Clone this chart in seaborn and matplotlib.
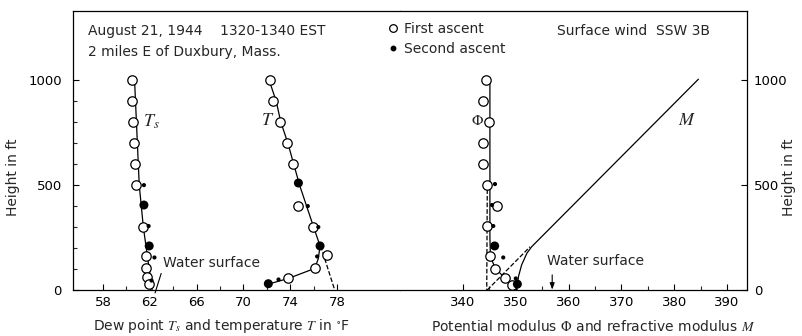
import matplotlib
matplotlib.use('Agg')
import matplotlib.pyplot as plt
import seaborn as sns
from matplotlib.lines import Line2D
from matplotlib.ticker import FixedLocator

# ---- left panel: dew point Ts and temperature T (deg F) vs height (ft)
ts_open_h = [1000, 900, 800, 700, 600, 500, 300, 160, 105, 60, 28]
ts_open = [60.45, 60.5, 60.6, 60.65, 60.7, 60.8, 61.4, 61.7, 61.7, 61.8, 61.9]
ts_fill_h = [500, 405, 305, 210, 155, 45]
ts_fill = [61.5, 61.5, 61.9, 61.95, 62.4, 62.15]
ts_fill_kind = ['s', 'L', 's', 'L', 's', 's']
ts_line_h = [1000, 500, 300, 0]
ts_line = [60.7, 61.1, 61.45, 62.2]

t_open_h = [1000, 900, 800, 700, 600, 400, 300, 165, 103, 55]
t_open = [72.27, 72.5, 73.13, 73.75, 74.27, 74.7, 75.97, 77.1, 76.1, 73.84]
t_fill_h = [510, 400, 300, 210, 160, 50, 30]
t_fill = [74.7, 75.5, 76.4, 76.55, 76.3, 73.0, 72.13]
t_fill_kind = ['L', 's', 's', 'L', 's', 's', 'L']
t_line_h = [1000, 900, 800, 700, 600, 500, 400, 300, 210, 150, 103, 55, 28]
t_line = [72.2, 72.8, 73.2, 73.8, 74.3, 74.8, 75.4, 76.0, 76.55, 76.4, 76.1, 73.84, 72.13]
t_dash_h = [210, 0]
t_dash = [76.6, 77.8]

# ---- right panel: potential modulus Phi and refractive modulus M
phi_open_h = [1000, 900, 800, 700, 600, 500, 400, 305, 160, 100, 55, 25]
phi_open = [344.36, 343.84, 344.92, 343.84, 343.84, 344.49, 346.38, 344.49, 345.1, 346.06, 347.95, 349.2]
phi_fill_h = [505, 405, 305, 210, 155, 55, 28]
phi_fill = [346.06, 345.5, 345.74, 346.0, 347.63, 350.0, 350.3]
phi_fill_kind = ['s', 's', 's', 'L', 's', 's', 'L']
phi_line_h = [1000, 250, 160, 103, 56, 24, 0]
phi_line = [345.1, 345.1, 345.2, 346.1, 348.0, 349.8, 350.2]
phi_dash_h = [480, 0]
phi_dash = [344.6, 344.5]
m_dash_h = [0, 206]
m_dash = [344.6, 352.7]
m_line_h = [0, 63, 119, 175, 206, 1005]
m_line = [350.2, 350.5, 351.1, 352.1, 353.0, 384.6]

left_ticks = [58, 62, 66, 70, 74, 78]
left_minor = [60, 64, 68, 72, 76]
right_ticks = [340, 350, 360, 370, 380, 390]
right_minor = [345, 355, 365, 375, 385]
y_ticks = [0, 500, 1000]

sns.set_style('ticks')
plt.rcParams['font.family'] = ['DejaVu Sans']
plt.rcParams['mathtext.fontset'] = 'stix'
plt.rcParams['font.size'] = 9.5

W, H = 803, 336
fig = plt.figure(figsize=(W / 100, H / 100), dpi=100)
L, R, B, T, MID = 73, 747, 290, 11, 400
ax1 = fig.add_axes([L / W, 1 - B / H, (MID - L) / W, (B - T) / H])
ax2 = fig.add_axes([MID / W, 1 - B / H, (R - MID) / W, (B - T) / H])

sizes = {'L': 42, 's': 9}
lw = 0.9


def profile(ax, xo, ho, xf, hf, kind, xl, hl):
    sns.lineplot(x=xl, y=hl, sort=False, estimator=None, color='black', lw=lw, ax=ax, zorder=2)
    sns.scatterplot(x=xo, y=ho, s=46, facecolor='white', edgecolor='black', linewidth=0.9, ax=ax, zorder=3)
    sns.scatterplot(x=xf, y=hf, size=kind, sizes=sizes, color='black', linewidth=0, legend=False, ax=ax, zorder=4)


profile(ax1, ts_open, ts_open_h, ts_fill, ts_fill_h, ts_fill_kind, ts_line, ts_line_h)
profile(ax1, t_open, t_open_h, t_fill, t_fill_h, t_fill_kind, t_line, t_line_h)
sns.lineplot(x=t_dash, y=t_dash_h, sort=False, estimator=None, color='black', lw=lw, linestyle='--', ax=ax1)

profile(ax2, phi_open, phi_open_h, phi_fill, phi_fill_h, phi_fill_kind, phi_line, phi_line_h)
sns.lineplot(x=m_line, y=m_line_h, sort=False, estimator=None, color='black', lw=lw, ax=ax2)
for xs, hs in [(phi_dash, phi_dash_h), (m_dash, m_dash_h)]:
    sns.lineplot(x=xs, y=hs, sort=False, estimator=None, color='black', lw=lw, linestyle='--', ax=ax2)

# scales
ax1.set_xlim(55.44, 83.38)
ax2.set_xlim(328.07, 393.8)
for ax in (ax1, ax2):
    ax.set_ylim(0, 1330)
    ax.yaxis.set_major_locator(FixedLocator(y_ticks))
    ax.tick_params(direction='in', length=4, width=0.8, colors='black', labelsize=9.5)
    ax.tick_params(which='minor', direction='in', length=3, width=0.8)
    for s in ax.spines.values():
        s.set_linewidth(0.9)
        s.set_color('black')

ax1.spines['right'].set_visible(False)
ax2.spines['left'].set_visible(False)
ax1.xaxis.set_major_locator(FixedLocator(left_ticks))
ax1.xaxis.set_minor_locator(FixedLocator(left_minor))
ax1.yaxis.set_minor_locator(FixedLocator(range(100, 1000, 100)))
ax2.xaxis.set_major_locator(FixedLocator(right_ticks))
ax2.xaxis.set_minor_locator(FixedLocator(right_minor))
ax2.yaxis.tick_right()
ax2.yaxis.set_label_position('right')
ax1.tick_params(axis='y', pad=8)
ax2.tick_params(axis='y', pad=5)
ax1.tick_params(axis='x', pad=4)
ax2.tick_params(axis='x', pad=4)

ax1.set_ylabel('Height in ft', fontsize=10)
ax1.yaxis.set_label_coords(-0.162, 0.405)
ax2.set_ylabel('Height in ft', fontsize=10, rotation=90, va='center')
ax2.yaxis.set_label_coords(1.12, 0.405)

ax1.set_xlabel(r'Dew point $T_s$ and temperature $T$ in $^{\circ}$F', fontsize=10, va='center')
ax1.xaxis.set_label_coords(0.453, -0.13)
ax2.set_xlabel(r'Potential modulus $\Phi$ and refractive modulus $M$', fontsize=10, va='center')
ax2.xaxis.set_label_coords(0.556, -0.13)

# curve labels
ax1.text(61.4, 800, '$T_s$', fontsize=13, va='center', ha='left')
ax1.text(71.5, 810, '$T$', fontsize=13, va='center', ha='left')
ax2.text(341.5, 810, r'$\Phi$', fontsize=11, va='center', ha='left')
ax2.text(380.7, 810, '$M$', fontsize=13, va='center', ha='left')

# water surface notes
ax1.annotate('Water surface', xy=(62.45, -14), xytext=(63.1, 128), fontsize=10,
             va='center', ha='left', annotation_clip=False,
             arrowprops=dict(arrowstyle='-', lw=0.8, color='black', relpos=(0, 0.1),
                             shrinkA=0, shrinkB=0))
ax2.text(355.9, 138, 'Water surface', fontsize=10, va='center', ha='left')
ax2.annotate('', xy=(356.9, 2), xytext=(356.9, 72),
             arrowprops=dict(arrowstyle='-|>,head_width=0.15,head_length=0.4', lw=0.8,
                             color='black', shrinkA=0, shrinkB=0))

# header texts
fig.text(88 / W, 1 - 31 / H, 'August 21, 1944    1320-1340 EST', fontsize=10, va='center')
fig.text(88 / W, 1 - 52 / H, '2 miles E of Duxbury, Mass.', fontsize=10, va='center')
fig.text(557 / W, 1 - 31 / H, 'Surface wind  SSW 3B', fontsize=10, va='center')

handles = [Line2D([], [], ls='', marker='o', ms=5.5, mfc='white', mec='black', mew=0.9),
           Line2D([], [], ls='', marker='o', ms=3.2, mfc='black', mec='black')]
fig.legend(handles, ['First ascent', 'Second ascent'], loc='upper left',
           bbox_to_anchor=(386 / W, 1 - 22 / H), frameon=False, fontsize=10,
           handlelength=1.0, handletextpad=0.3, labelspacing=0.45, borderpad=0, borderaxespad=0)

fig.savefig('out.png', dpi=100)
